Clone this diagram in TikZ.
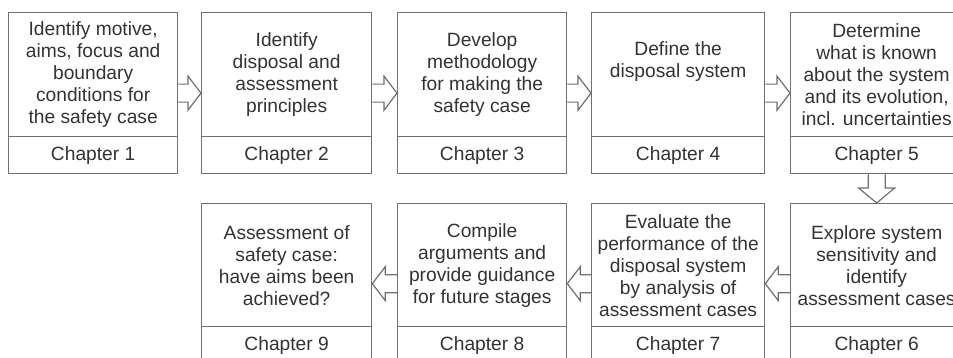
\documentclass[tikz,border=0pt]{standalone}
\usepackage{fontspec}
\setmainfont{Liberation Sans}
\usetikzlibrary{calc}
\definecolor{linec}{HTML}{707070}
\definecolor{textc}{HTML}{333333}
\begin{document}
\begin{tikzpicture}[x=1pt,y=-1pt,
  bodybox/.style={draw=linec, line width=1.3pt, minimum height=124pt, inner sep=0pt,
    align=center, anchor=north west, text=textc,
    font=\fontsize{19.2}{22}\selectfont},
  chapbox/.style={bodybox, minimum height=37pt},
  arr/.style={draw=linec, line width=1.2pt, line join=miter}]
\useasboundingbox (0,0) rectangle (953,358);
\clip (0,0) rectangle (953,358);
\fill[white] (0,0) rectangle (953,358);
% top row
\node[bodybox, minimum width=169pt] (t1) at (8,12) {Identify motive,\\aims, focus and\\boundary\\conditions for\\the safety case};
\node[chapbox, minimum width=169pt] (c1) at (8,136) {Chapter 1};
\node[bodybox, minimum width=170pt] (t2) at (201,12) {Identify\\disposal and\\assessment\\principles};
\node[chapbox, minimum width=170pt] (c2) at (201,136) {Chapter 2};
\node[bodybox, minimum width=169pt] (t3) at (397,12) {Develop\\methodology\\for making the\\safety case};
\node[chapbox, minimum width=169pt] (c3) at (397,136) {Chapter 3};
\node[bodybox, minimum width=173pt] (t4) at (591,12) {Define the\\disposal system\\[8pt]};
\node[chapbox, minimum width=173pt] (c4) at (591,136) {Chapter 4};
\node[bodybox, minimum width=172pt] (t5) at (790,12) {Determine\\what is known\\about the system\\and its evolution,\\incl. uncertainties};
\node[chapbox, minimum width=172pt] (c5) at (790,136) {Chapter 5};
% bottom row
\node[bodybox, minimum width=170pt, minimum height=123pt] (t9) at (201,203) {Assessment of\\safety case:\\have aims been\\achieved?};
\node[chapbox, minimum width=170pt] (c9) at (201,326) {Chapter 9};
\node[bodybox, minimum width=169pt, minimum height=123pt] (t8) at (397,203) {Compile\\arguments and\\provide guidance\\for future stages};
\node[chapbox, minimum width=169pt] (c8) at (397,326) {Chapter 8};
\node[bodybox, minimum width=173pt, minimum height=123pt] (t7) at (591,203) {Evaluate the\\performance of the\\disposal system\\by analysis of\\assessment cases};
\node[chapbox, minimum width=173pt] (c7) at (591,326) {Chapter 7};
\node[bodybox, minimum width=172pt, minimum height=123pt] (t6) at (790,203) {Explore system\\sensitivity and\\identify\\assessment cases};
\node[chapbox, minimum width=172pt] (c6) at (790,326) {Chapter 6};
% right-pointing arrows (top row)
\foreach \a/\b in {1/2,2/3,3/4,4/5}{
  \coordinate (ra\a) at ($(t\a.north east)!0.5!(c\a.south east)$);
  \coordinate (rb\a) at ($(t\b.north west)!0.5!(c\b.south west)$);
  \draw[arr] let \p1=(ra\a), \p2=(rb\a) in
    (\x1,\y1+9pt) -- (\x2-13pt,\y1+9pt) -- (\x2-13pt,\y1+17pt) -- (\x2,\y1)
    -- (\x2-13pt,\y1-17pt) -- (\x2-13pt,\y1-9pt) -- (\x1,\y1-9pt);
}
% left-pointing arrows (bottom row)
\foreach \a/\b in {6/7,7/8,8/9}{
  \coordinate (la\a) at ($(t\a.north west)!0.5!(c\a.south west)$);
  \coordinate (lb\a) at ($(t\b.north east)!0.5!(c\b.south east)$);
  \draw[arr] let \p1=(la\a), \p2=(lb\a) in
    (\x1,\y1+9pt) -- (\x2+13pt,\y1+9pt) -- (\x2+13pt,\y1+17pt) -- (\x2,\y1)
    -- (\x2+13pt,\y1-17pt) -- (\x2+13pt,\y1-9pt) -- (\x1,\y1-9pt);
}
% down arrow
\draw[arr] let \p1=(c5.south), \p2=(t6.north) in
  (\x1-8.5pt,\y1) -- (\x1-8.5pt,\y2+15pt) -- (\x1-18pt,\y2+15pt) -- (\x2,\y2)
  -- (\x1+18pt,\y2+15pt) -- (\x1+8.5pt,\y2+15pt) -- (\x1+8.5pt,\y1);
\end{tikzpicture}
\end{document}
